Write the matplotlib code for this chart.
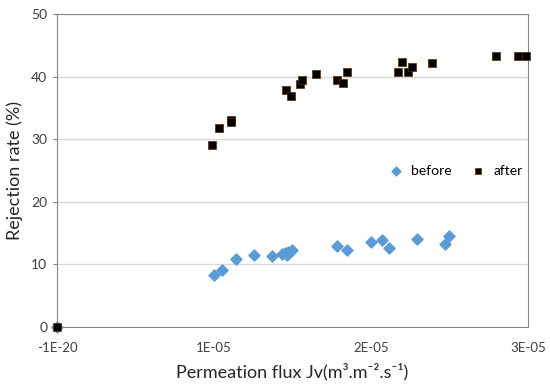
import matplotlib
matplotlib.use("Agg")
import matplotlib.pyplot as plt
import numpy as np

plt.rcParams['font.family'] = ['Lato', 'DejaVu Sans']

# data (flux in m3/m2/s, rejection in %)
before_x = [0, 1.002e-5, 1.053e-5, 1.142e-5, 1.253e-5, 1.371e-5, 1.431e-5, 1.452e-5,
            1.469e-5, 1.462e-5, 1.499e-5, 1.783e-5, 1.85e-5, 2.0e-5, 2.07e-5,
            2.117e-5, 2.293e-5, 2.469e-5, 2.499e-5]
before_y = [0, 8.3, 9.05, 10.9, 11.5, 11.4, 11.7, 11.8,
            12.0, 11.5, 12.3, 12.9, 12.25, 13.6, 13.9,
            12.6, 14.1, 13.2, 14.6]

after_x = [0, 0.989e-5, 1.03e-5, 1.106e-5, 1.106e-5, 1.457e-5, 1.49e-5, 1.546e-5,
           1.563e-5, 1.65e-5, 1.783e-5, 1.824e-5, 1.85e-5, 2.174e-5, 2.2e-5,
           2.238e-5, 2.263e-5, 2.387e-5, 2.796e-5, 2.934e-5, 2.99e-5]
after_y = [0, 29.0, 31.8, 33.1, 32.7, 37.9, 36.9, 38.8,
           39.5, 40.5, 39.4, 39.0, 40.7, 40.7, 42.4,
           40.7, 41.6, 42.2, 43.3, 43.3, 43.3]

xticks = [0, 1e-5, 2e-5, 3e-5]
xtick_labels = ['-1E-20', '1E-05', '2E-05', '3E-05']

fig = plt.figure(figsize=(5.5, 3.9), dpi=100)
ax = fig.add_axes([0.1036, 0.1615, 0.8564, 0.8025])

ax.scatter(before_x, before_y, marker='D', s=32, color='#5b9bd5', label='before',
           zorder=3, clip_on=False)
ax.scatter(after_x, after_y, marker='s', s=32, color='black', edgecolors='#5a2d00',
           linewidths=0.5, label='after', zorder=4, clip_on=False)

ax.set_xlim(0, 3e-5)
ax.set_ylim(0, 50)
ax.set_xticks(xticks)
ax.set_xticklabels(xtick_labels)
ax.set_yticks([0, 10, 20, 30, 40, 50])
ax.yaxis.grid(True, color='#d9d9d9', linewidth=1)
ax.set_axisbelow(True)
for s in ax.spines.values():
    s.set_color('#868686')
ax.tick_params(axis='y', length=3, color='#868686', labelsize=10, pad=4, colors='#404040')
ax.tick_params(axis='x', length=0, labelsize=9.5, pad=11, colors='#404040')

ax.set_xlabel('Permeation flux Jv(m³.m⁻².s⁻¹)', fontsize=13, color='#262626', labelpad=6)
ax.set_ylabel('Rejection rate (%)', fontsize=13, color='#262626', labelpad=6)

ax.legend(loc='center', bbox_to_anchor=(0.84, 0.5), ncol=2, frameon=False,
          fontsize=10, handletextpad=0.1, columnspacing=0.9, markerscale=0.8)

plt.savefig('out.png')
